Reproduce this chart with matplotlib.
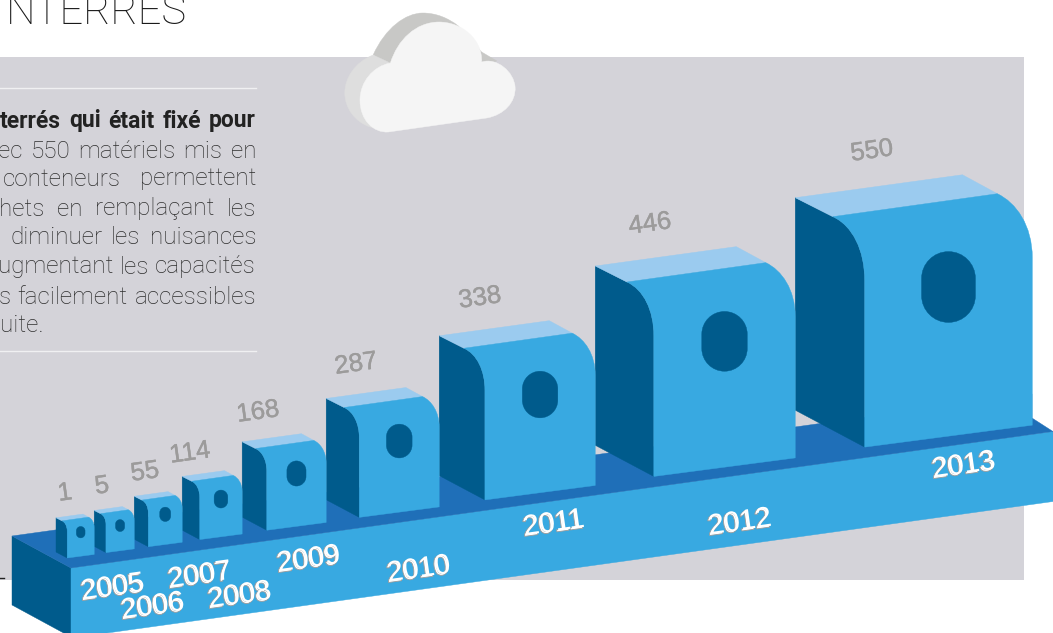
import numpy as np
import matplotlib
matplotlib.use("Agg")
import matplotlib.pyplot as plt
from matplotlib.path import Path
from matplotlib.patches import PathPatch, Rectangle, Polygon
import matplotlib.patheffects as pe

# ---- data ----
years = [2005, 2006, 2007, 2008, 2009, 2010, 2011, 2012, 2013]
values = [1, 5, 55, 114, 168, 287, 338, 446, 550]
title = "NTERRES"
body_lines = [
    "terrés qui était fixé pour",
    "ec 550 matériels mis en",
    "conteneurs permettent",
    "hets en remplaçant les",
    "diminuer les nuisances",
    "ugmentant les capacités",
    "s facilement accessibles",
    "uite.",
]

# ---- the graphic's own non-linear size scale: value -> front width (px) ----
SCALE_DOMAIN = [1, 5, 55, 114, 168, 287, 338, 446, 550]
SCALE_RANGE = [27, 28.3, 33.9, 42.4, 59.4, 79.9, 110.3, 141.4, 167.6]
START_X = 56
DEPTH = 0.4145
BASE_Y0, BASE_X0, SLOPE = 558, 67, 0.139

# ---- label placement ----
value_xy = [(65, 493), (102, 486), (145, 472), (190, 453), (258, 412),
            (356, 364), (480, 298), (650, 224), (872, 151)]
year_xy = [(113, 588), (153, 607), (200, 576), (240, 596), (309, 560),
           (419, 570), (554, 524), (740, 523), (964, 466)]
body_y = [121, 151, 179, 209, 238, 267, 297, 326]
body_x0 = [0, -2, 3, -1, 10, -2, -1, 0]

# ---- colours ----
BG = "#D4D3D9"; MID = "#38A9E1"; DARK = "#005B8C"; TOP = "#9BCBEF"; BASE = "#1F6FB8"

fig = plt.figure(figsize=(10.53, 6.33), dpi=100, facecolor="white")
ax = fig.add_axes([0, 0, 1, 1])
ax.set_xlim(0, 1053); ax.set_ylim(633, 0); ax.axis("off")

ax.add_patch(Rectangle((0, 57), 1024, 523, fc=BG, ec="none", zorder=0))
ax.plot([0, 4], [578, 578], color="#222222", lw=1, zorder=0.5)


def poly(pts, color, z=2):
    ax.add_patch(Polygon(pts, closed=True, fc=color, ec=color, lw=0.3, zorder=z))


def bez(verts_codes, color, z=2, ec=None):
    v, c = zip(*verts_codes)
    ax.add_patch(PathPatch(Path(v, c), fc=color, ec=ec or color, lw=0.3, zorder=z))


M, L, C3 = Path.MOVETO, Path.LINETO, Path.CURVE4

# base block
base_line = lambda x, off=0: 568 - SLOPE * (x - 71) + off
poly([(12, 536), (12, 605), (71, 637), (71, 568)], DARK, 1)
poly([(71, 568), (1053, base_line(1053)), (1053, base_line(1053) + 70), (71, 638)], MID, 1)
poly([(12, 536), (71, 568), (1053, base_line(1053)), (1032, 418), (1032, 394)], BASE, 1)

# containers: x positions accumulate from the value-driven widths
widths = np.interp(values, SCALE_DOMAIN, SCALE_RANGE)
lefts = START_X + np.concatenate([[0], np.cumsum(widths * (1 + DEPTH))[:-1]])


def container(left, w):
    k = w / 168.0
    fx = left + DEPTH * w
    fy = BASE_Y0 - SLOPE * (fx - BASE_X0)
    P = lambda dx, dy: (fx + dx * k, fy + dy * k)
    # side
    bez([(P(-69.6, -37), M), (P(-69.6, -250), L), (P(-32, -231), L),
         (P(-12, -222), C3), (P(0, -197), C3), (P(0, -167), C3), (P(0, 0), L),
         (P(-69.6, -37), L)], DARK, 3)
    # top
    poly([P(-69.6, -250), P(98, -273), P(133, -254), P(-32, -231)], TOP, 3)
    # front
    bez([(P(0, 0), M), (P(168, -22), L), (P(168, -190), L),
         (P(168, -222), C3), (P(152, -245), C3), (P(133, -254), C3),
         (P(-32, -231), L),
         (P(-12, -222), C3), (P(0, -197), C3), (P(0, -167), C3), (P(0, 0), L)], MID, 4)
    # opening
    cx, cy, r, hh = 84, -160.5, 27, 8.5
    t = 0.5523 * r
    bez([(P(cx - r, cy - hh), M),
         (P(cx - r, cy - hh - t), C3), (P(cx - t, cy - hh - r), C3), (P(cx, cy - hh - r), C3),
         (P(cx + t, cy - hh - r), C3), (P(cx + r, cy - hh - t), C3), (P(cx + r, cy - hh), C3),
         (P(cx + r, cy + hh), L),
         (P(cx + r, cy + hh + t), C3), (P(cx + t, cy + hh + r), C3), (P(cx, cy + hh + r), C3),
         (P(cx - t, cy + hh + r), C3), (P(cx - r, cy + hh + t), C3), (P(cx - r, cy + hh), C3),
         (P(cx - r, cy - hh), L)], DARK, 5)


for left, w in zip(lefts, widths):
    container(left, w)

# value labels
for v, (x, y) in zip(values, value_xy):
    ax.text(x, y, str(v), family="Liberation Sans", fontsize=18.5, color="#9C9B9B",
            rotation=8, rotation_mode="anchor", ha="center", va="center", zorder=6,
            path_effects=[pe.Stroke(linewidth=0.3, foreground="#9C9B9B"), pe.Normal()])

# year labels
for yr, (x, y) in zip(years, year_xy):
    ax.text(x, y, str(yr), family="Liberation Sans", fontsize=20.5, color="white",
            rotation=8, rotation_mode="anchor", ha="center", va="center", zorder=7,
            path_effects=[pe.Stroke(linewidth=0.6, foreground="#9A9A9A", offset=(-1, -1)),
                          pe.Normal()])

# cloud
cx = lambda x: x * 1.014
bez([((cx(368), 55), M), ((cx(380), 28), C3), ((cx(400), 13), C3), ((cx(417), 13), C3),
     ((cx(430), 13), C3), ((cx(442), 18), C3), ((cx(452), 26), C3), ((cx(475), 52), L), ((cx(490), 61), L),
     ((cx(470), 66), L), ((cx(385), 66), L), ((cx(368), 55), L)], "#C8C8C6", 2)
bez([((cx(368), 55), M), ((cx(350), 62), C3), ((cx(340), 78), C3), ((cx(340), 93), C3),
     ((cx(340), 108), C3), ((cx(350), 122), C3), ((cx(365), 127), C3), ((cx(385), 132), L), ((cx(385), 63), L),
     ((cx(368), 55), L)], "#DEDEDE", 2)
bez([((cx(383), 132), M), ((cx(480), 118), L),
     ((cx(497), 115), C3), ((cx(509), 102), C3), ((cx(508), 87), C3),
     ((cx(507), 72), C3), ((cx(490), 57), C3), ((cx(475), 62), C3),
     ((cx(476), 40), C3), ((cx(456), 22), C3), ((cx(433), 22), C3),
     ((cx(410), 22), C3), ((cx(392), 40), C3), ((cx(385), 63), C3),
     ((cx(368), 66), C3), ((cx(355), 82), C3), ((cx(355), 100), C3),
     ((cx(355), 120), C3), ((cx(368), 133), C3), ((cx(383), 132), C3)], "#F5F5F5", 3)

# title and text block
ax.text(187, 24, title, family="Roboto", weight="light", fontsize=30, color="#1A1A1A",
        ha="right", va="baseline", zorder=6)
ax.plot([0, 256], [87.5, 87.5], color="#F0F0F2", lw=1, zorder=1)
ax.plot([0, 256], [351, 351], color="#F0F0F2", lw=1, zorder=1)

renderer = fig.canvas.get_renderer()
for i, (line, y, x0) in enumerate(zip(body_lines, body_y, body_x0)):
    kw = dict(family="Roboto", fontsize=17.5, va="center", ha="left", color="#2E2E2E", zorder=6)
    kw["weight"] = "bold" if i == 0 else "light"
    if i == 0:
        kw["color"] = "#222222"
        kw["fontsize"] = 16.5
    words = line.split()
    artists = [ax.text(0, y, wd, **kw) for wd in words]
    sizes = [a.get_window_extent(renderer).width for a in artists]
    if i == len(body_lines) - 1 or len(words) == 1:
        gap = 6
    else:
        gap = (256 - x0 - sum(sizes)) / (len(words) - 1)
    x = x0
    for a, s in zip(artists, sizes):
        a.set_x(x)
        x += s + gap

fig.savefig("out.png", dpi=100)
